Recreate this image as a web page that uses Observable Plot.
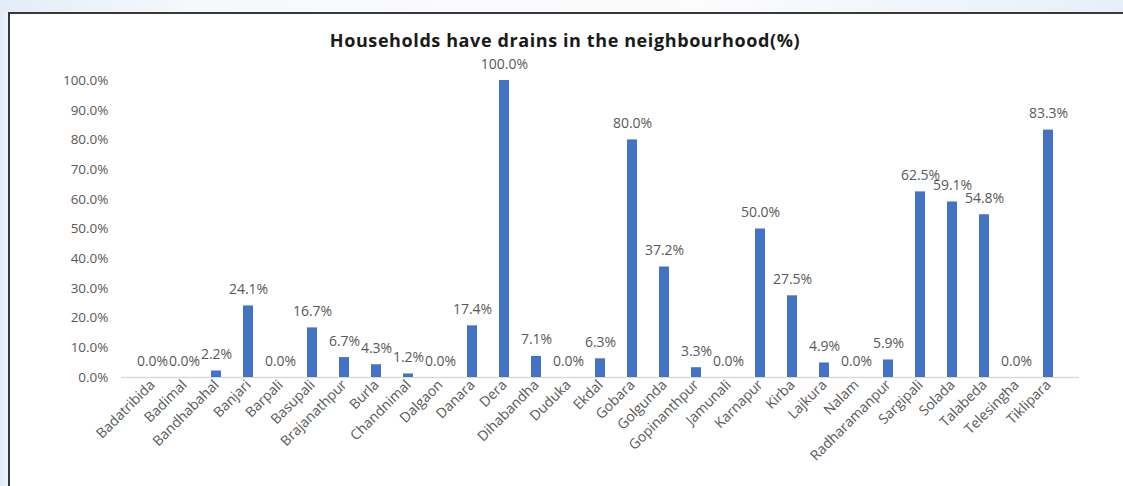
<!DOCTYPE html>
<html>
<head>
<meta charset="utf-8">
<script src="https://cdn.jsdelivr.net/npm/d3@7"></script>
<script src="https://cdn.jsdelivr.net/npm/@observablehq/plot@0.6"></script>
<style>
  html, body { margin: 0; padding: 0; width: 1123px; height: 486px; overflow: hidden;
    background: linear-gradient(90deg, #dfeaf6 0px, #eef4fa 9px); }
  #topband { position: absolute; left: 0; top: 0; width: 1123px; height: 12px; background: linear-gradient(90deg, #e3edf7 0px, #f6f9fc 200px, #fbfcfe 700px, #e6eff8 1123px); }
  #frame { position: absolute; left: 8px; top: 12px; width: 1200px; height: 520px; border: 2px solid #383838; background: #fff; }
  #title { position: absolute; left: 0; top: 29px; width: 1130px; text-align: center; font-weight: bold; font-size: 18px; line-height: 22px; letter-spacing: 0.6px; color: #1a1a1a; font-family: "Open Sans", sans-serif; }
  #chart { position: absolute; left: 0; top: 13px; }
</style>
</head>
<body>
<div id="topband"></div>
<div id="frame"></div>
<div id="chart"></div>
<div id="title">Households have drains in the neighbourhood(%)</div>
<script>
const villages = ["Badatribida","Badimal","Bandhabahal","Banjari","Barpali","Basupali","Brajanathpur","Burla","Chandnimal","Dalgaon","Danara","Dera","Dihabandha","Duduka","Ekdal","Gobara","Golgunda","Gopinanthpur","Jamunali","Karnapur","Kirba","Lajkura","Nalam","Radharamanpur","Sargipali","Solada","Talabeda","Telesingha","Tiklipara"];
const percents = [0.0,0.0,2.2,24.1,0.0,16.7,6.7,4.3,1.2,0.0,17.4,100.0,7.1,0.0,6.3,80.0,37.2,3.3,0.0,50.0,27.5,4.9,0.0,5.9,62.5,59.1,54.8,0.0,83.3];
const yTicks = [0,10,20,30,40,50,60,70,80,90,100];

const data = villages.map((v, i) => ({village: v, pct: percents[i]}));
const fmt = d => d.toFixed(1) + "%";

const chart = Plot.plot({
  width: 1123,
  height: 473,
  marginTop: 67,
  marginBottom: 109,
  marginLeft: 121,
  marginRight: 44,
  style: {fontFamily: "'Open Sans', sans-serif", background: "transparent"},
  x: {domain: villages, padding: 0.7, label: null},
  y: {domain: [0, 100], label: null},
  marks: [
    Plot.ruleY([0], {stroke: "#d9d9d9", strokeWidth: 1.5}),
    Plot.barY(data, {x: "village", y: "pct", fill: "#4472C4"}),
    Plot.text(data, {x: "village", y: "pct", text: d => fmt(d.pct), lineAnchor: "bottom", dy: -12, fill: "#595959", fontSize: 14}),
    Plot.axisY({ticks: yTicks, tickFormat: fmt, tickSize: 0, tickPadding: 13, fontSize: 13.5, color: "#595959", label: null}),
    Plot.axisX({tickRotate: -45, tickSize: 0, tickPadding: 5, fontSize: 14, color: "#595959", label: null})
  ]
});
document.getElementById("chart").appendChild(chart);
</script>
</body>
</html>
